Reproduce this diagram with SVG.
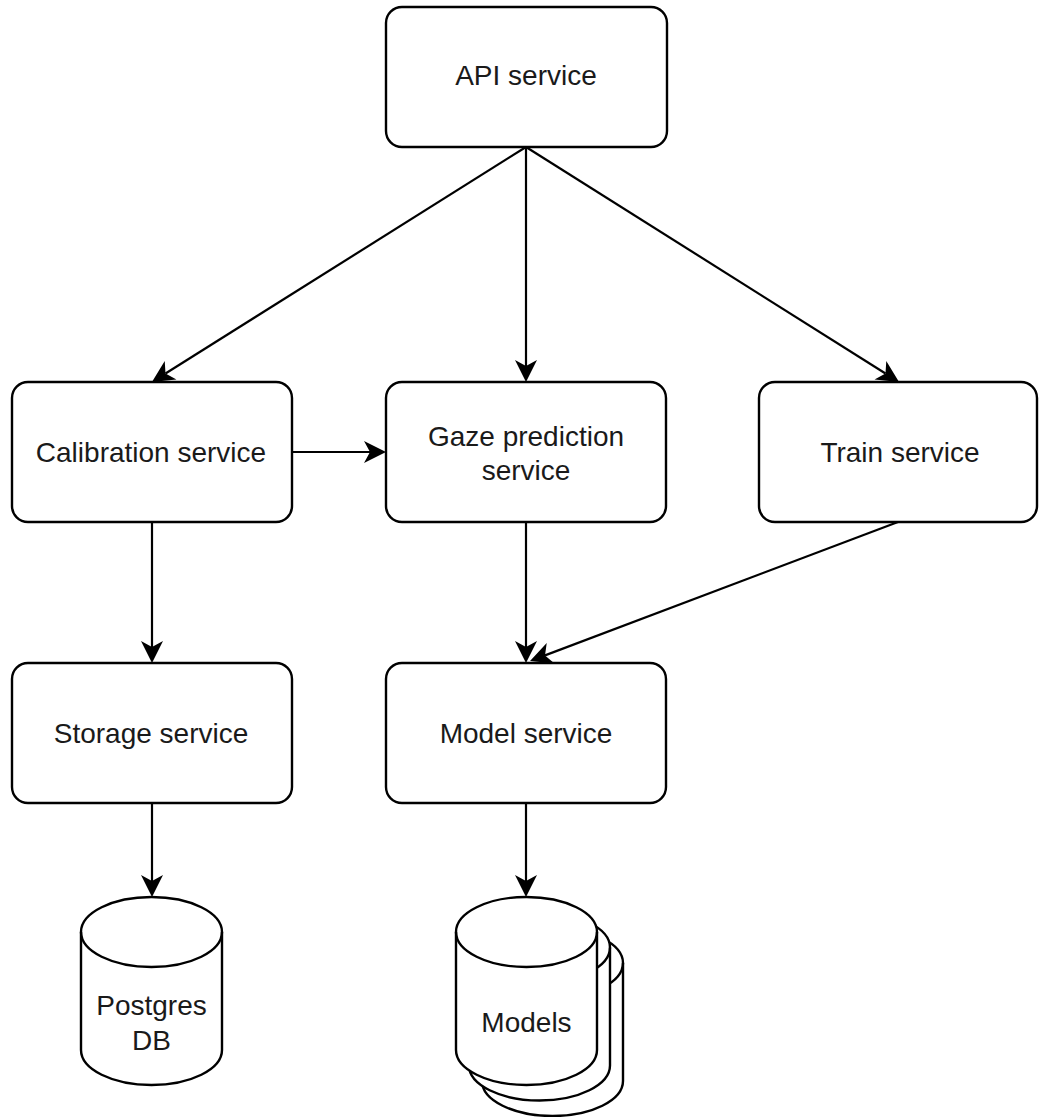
<svg xmlns="http://www.w3.org/2000/svg" width="1039" height="1117" viewBox="0 0 1039 1117">
  <style>
    .box { fill: #ffffff; stroke: #000000; stroke-width: 2.4; }
    .cyl { fill: #ffffff; stroke: #000000; stroke-width: 2.4; stroke-linejoin: round; }
    .rim { fill: none; stroke: #000000; stroke-width: 2.4; }
    .edge { fill: none; stroke: #000000; stroke-width: 2.2; marker-end: url(#arrow); }
    .label { font-family: "Liberation Sans", Arial, sans-serif; font-size: 28px; fill: #1a1a1a; text-anchor: middle; }
  </style>
  <defs>
    <!-- classic notched arrowhead; reference point sits on the notch -->
    <marker id="arrow" markerUnits="userSpaceOnUse" markerWidth="24" markerHeight="22" viewBox="0 0 22 22" refX="6" refY="11" orient="auto">
      <path d="M22,11 L0,0 L6,11 L0,22 Z" fill="#000000"/>
    </marker>
    <!-- database cylinder, 141 x 188, origin top-left -->
    <g id="cylinder">
      <path class="cyl" d="M0,35 A70.5,35 0 0 1 141,35 L141,153 A70.5,35 0 0 1 0,153 Z"/>
      <path class="rim" d="M0,35 A70.5,35 0 0 0 141,35"/>
    </g>
  </defs>

  <rect width="1039" height="1117" fill="#ffffff"/>

  <g id="connectors">
    <line class="edge" x1="526" y1="147" x2="165.5" y2="373.5"/>
    <line class="edge" x1="526" y1="147" x2="526" y2="366"/>
    <line class="edge" x1="526" y1="147" x2="885.5" y2="373.5"/>
    <line class="edge" x1="292" y1="452" x2="370" y2="452"/>
    <line class="edge" x1="152" y1="522" x2="152" y2="647"/>
    <line class="edge" x1="526" y1="522" x2="526" y2="647"/>
    <line class="edge" x1="898" y1="522" x2="545" y2="655.4"/>
    <line class="edge" x1="152" y1="803" x2="152" y2="881"/>
    <line class="edge" x1="526" y1="803" x2="526" y2="881"/>
  </g>

  <g id="api-service">
    <rect class="box" x="386" y="7" width="281" height="140" rx="16"/>
    <text class="label" x="526" y="85">API service</text>
  </g>

  <g id="calibration-service">
    <rect class="box" x="12" y="382" width="280" height="140" rx="16"/>
    <text class="label" x="151" y="462">Calibration service</text>
  </g>

  <g id="gaze-prediction-service">
    <rect class="box" x="386" y="382" width="280" height="140" rx="16"/>
    <text class="label" x="526" y="446">Gaze prediction</text>
    <text class="label" x="526" y="480">service</text>
  </g>

  <g id="train-service">
    <rect class="box" x="759" y="382" width="278" height="140" rx="16"/>
    <text class="label" x="900" y="462">Train service</text>
  </g>

  <g id="storage-service">
    <rect class="box" x="12" y="663" width="280" height="140" rx="16"/>
    <text class="label" x="151" y="743">Storage service</text>
  </g>

  <g id="model-service">
    <rect class="box" x="386" y="663" width="280" height="140" rx="16"/>
    <text class="label" x="526" y="743">Model service</text>
  </g>

  <g id="postgres-db">
    <use href="#cylinder" x="81" y="897"/>
    <text class="label" x="151.5" y="1015">Postgres</text>
    <text class="label" x="151.5" y="1050">DB</text>
  </g>

  <g id="models">
    <use href="#cylinder" x="482" y="928"/>
    <use href="#cylinder" x="469" y="912.5"/>
    <use href="#cylinder" x="456" y="897"/>
    <text class="label" x="526.5" y="1032">Models</text>
  </g>
</svg>
